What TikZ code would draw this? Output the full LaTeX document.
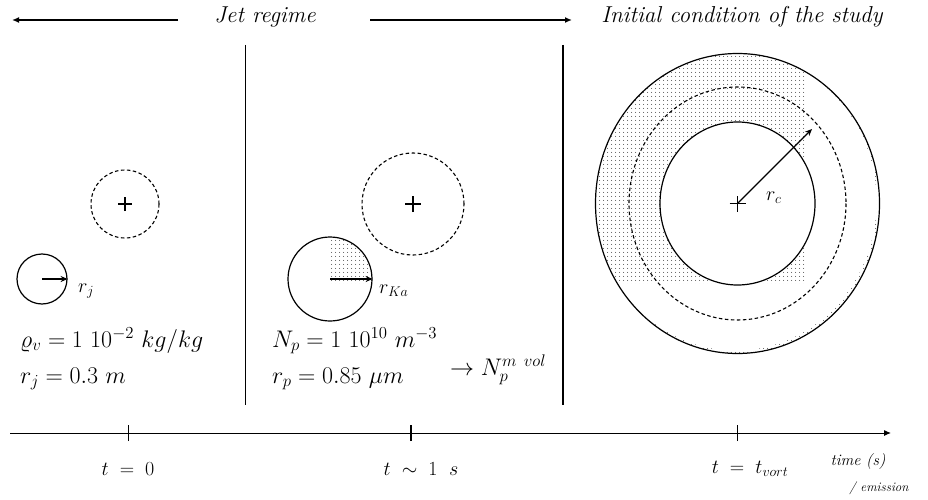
\RequirePackage{fix-cm}
\documentclass[tikz,border=0pt]{standalone}
\usepackage{amsmath}
\usetikzlibrary{arrows.meta,patterns.meta}
\begin{document}
\begin{tikzpicture}[x=1pt,y=-1pt]
\tikzset{
  thinline/.style={line width=1pt},
  thickline/.style={line width=2pt},
  dashcirc/.style={line width=1.1pt, dash pattern=on 3.5pt off 2.5pt},
  solidcirc/.style={line width=1.2pt},
  arr/.style={line width=1.2pt, -{Stealth[length=7pt,width=6pt]}},
  toparr/.style={thickline, -{Latex[length=7pt,width=6pt]}},
  mathlbl/.style={inner sep=0pt, font=\fontsize{24}{28}\selectfont},
  rlbl/.style={inner sep=0pt, font=\fontsize{20}{24}\selectfont},
  hdr/.style={inner sep=0pt, font=\fontsize{23}{27}\selectfont\itshape},
  axlbl/.style={inner sep=0pt, font=\fontsize{20}{24}\selectfont},
  dotfill/.style={pattern={Dots[distance=4pt,radius=0.5pt]}},
  plus/.style={line width=1.1pt}
}
\useasboundingbox (0,0) rectangle (928,500);
\fill[white] (0,0) rectangle (928,500);

% header
\coordinate (la0) at (178,20);
\coordinate (la1) at (12,20);
\coordinate (ra0) at (370,20);
\coordinate (ra1) at (572,20);
\draw[toparr] (la0) -- (la1);
\draw[toparr] (ra0) -- (ra1);
\node[hdr] (jet) at (265,17) {Jet regime};
\node[hdr] (init) at (742,17) {Initial condition of the study};

% separators
\coordinate (s1a) at (245,45);
\coordinate (s1b) at (245,405);
\coordinate (s2a) at (563,45);
\coordinate (s2b) at (563,405);
\draw[thinline] (s1a) -- (s1b);
\draw[thickline] (s2a) -- (s2b);

% panel 1
\node[draw, solidcirc, circle, minimum size=50pt, inner sep=0pt] (cj) at (42,279) {};
\draw[arr] (cj.center) -- (cj.east);
\node[rlbl, anchor=west] (rjl) at (78,291) {$r_j$};
\node[draw, dashcirc, circle, minimum size=68pt, inner sep=0pt] (dj) at (125,204) {};
\draw[plus] ([xshift=-7pt]dj.center) -- ([xshift=7pt]dj.center);
\draw[plus] ([yshift=-7pt]dj.center) -- ([yshift=7pt]dj.center);
\node[mathlbl, anchor=base west] (rho) at (20,347) {$\varrho_v = 1\ 10^{-2}\ kg/kg$};
\node[mathlbl, anchor=base west] (rjv) at (20,383) {$r_j = 0.3\ m$};

% panel 2
\begin{scope}
  \clip (330,279) circle (42);
  \fill[dotfill] (330,236) rectangle (373,283);
\end{scope}
\node[draw, solidcirc, circle, minimum size=84pt, inner sep=0pt] (ck) at (330,279) {};
\draw[arr] (ck.center) -- (ck.east);
\node[rlbl, anchor=west] (rkl) at (379,291) {$r_{Ka}$};
\node[draw, dashcirc, circle, minimum size=102pt, inner sep=0pt] (dk) at (413,204) {};
\draw[plus] ([xshift=-8pt]dk.center) -- ([xshift=8pt]dk.center);
\draw[plus] ([yshift=-8pt]dk.center) -- ([yshift=8pt]dk.center);
\node[mathlbl, anchor=base west] (np) at (272,347) {$N_p = 1\ 10^{10}\ m^{-3}$};
\node[mathlbl, anchor=base west] (rp) at (272,383) {$r_p = 0.85\ \mu m$};
\node[mathlbl, anchor=west] (nvol) at (450,370) {$\rightarrow N_p^{m\ vol}$};

% panel 3
\coordinate (cc) at (737.5,203.5);
\begin{scope}
  \clip (cc) ellipse [x radius=142, y radius=150];
  \fill[dotfill] (594,52) rectangle (881,355);
  \fill[white] (735.5,201.5) ellipse [x radius=141, y radius=149];
  \fill[dotfill] (594,52) rectangle (805,283);
  \fill[white] (cc) ellipse [x radius=77.5, y radius=81.5];
\end{scope}
\draw[solidcirc] (cc) ellipse [x radius=142, y radius=150];
\draw[dashcirc] (cc) ellipse [x radius=108.5, y radius=116.5];
\draw[solidcirc] (cc) ellipse [x radius=77.5, y radius=81.5];
\draw[plus] ([xshift=-8pt]cc) -- ([xshift=8pt]cc);
\draw[plus] ([yshift=-8pt]cc) -- ([yshift=8pt]cc);
\coordinate (rctip) at (812,129);
\draw[arr] (cc) -- (rctip);
\node[rlbl, anchor=west] (rcl) at (766,198) {$r_c$};

% time axis
\coordinate (ax0) at (10,433);
\coordinate (ax1) at (891,433);
\draw[thinline, -{Latex[length=7pt,width=6pt]}] (ax0) -- (ax1);
\coordinate (t0) at (128,433);
\coordinate (t1) at (411,433);
\coordinate (t2) at (737,433);
\draw[thinline] ([yshift=-8pt]t0) -- ([yshift=8pt]t0);
\draw[line width=2pt] ([yshift=-8pt]t1) -- ([yshift=8pt]t1);
\draw[thinline] ([yshift=-8pt]t2) -- ([yshift=8pt]t2);
\node[axlbl] (lt0) at (128,469) {$t \;=\; 0$};
\node[axlbl] (lt1) at (421,469) {$t \;\sim\; 1\;\ s$};
\node[axlbl] (lt2) at (750,469) {$t \;=\; t_{vort}$};
\node[axlbl, font=\fontsize{16}{19}\selectfont\itshape] (ltime) at (858,462) {time (s)};
\node[axlbl, font=\fontsize{13}{15}\selectfont\itshape] (lemi) at (879,488) {/ emission};
\end{tikzpicture}
\end{document}
